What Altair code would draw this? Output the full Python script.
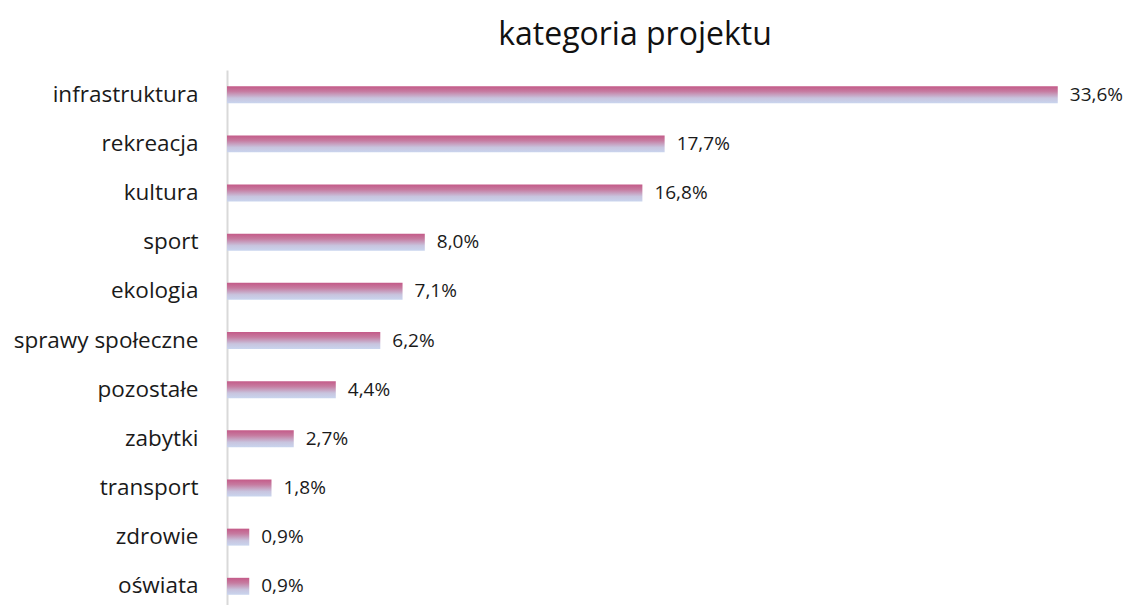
import altair as alt
import pandas as pd

categories = ["infrastruktura", "rekreacja", "kultura", "sport", "ekologia",
              "sprawy społeczne", "pozostałe", "zabytki", "transport", "zdrowie", "oświata"]
values = [33.6, 17.7, 16.8, 8.0, 7.1, 6.2, 4.4, 2.7, 1.8, 0.9, 0.9]

df = pd.DataFrame({
    "kategoria": categories,
    "procent": values,
    "etykieta": [f"{v:.1f}%".replace(".", ",") for v in values],
})

FONT = "Open Sans"

y_enc = alt.Y("kategoria:N", sort=categories, title=None,
              scale=alt.Scale(paddingInner=0.655, paddingOuter=0.33),
              axis=alt.Axis(ticks=False, domainColor="#d9d9d9", domainWidth=2,
                            labelFont=FONT, labelFontSize=22.5, labelColor="#1a1a1a",
                            labelPadding=29, grid=False, labelLimit=400))
x_enc = alt.X("procent:Q", title=None, axis=None,
              scale=alt.Scale(domain=[0, 33.65], nice=False, zero=True))

grad = alt.Gradient(gradient="linear", x1=0, y1=0, x2=0, y2=1,
                    stops=[alt.GradientStop(color="#c45a88", offset=0),
                           alt.GradientStop(color="#c67ba0", offset=0.3),
                           alt.GradientStop(color="#c8c4de", offset=0.7),
                           alt.GradientStop(color="#c9d5ee", offset=1)])

bars = alt.Chart(df).mark_bar(color=grad).encode(y=y_enc, x=x_enc)
labels = alt.Chart(df).mark_text(align="left", baseline="middle", dx=12,
                                 font=FONT, fontSize=19, color="#1a1a1a").encode(
    y=alt.Y("kategoria:N", sort=categories), x="procent:Q", text="etykieta:N")

chart = alt.layer(bars, labels).properties(
    width=832, height=541,
    title=alt.Title("kategoria projektu", font=FONT, fontSize=32, fontWeight="normal",
                    color="#111111", anchor="middle", offset=18, dx=-8),
    autosize="none",
    padding={"left": 219, "top": 62, "right": 67, "bottom": 0},
).configure_view(stroke=None)

chart.save("out.html", embed_options={"renderer": "svg", "actions": False})
